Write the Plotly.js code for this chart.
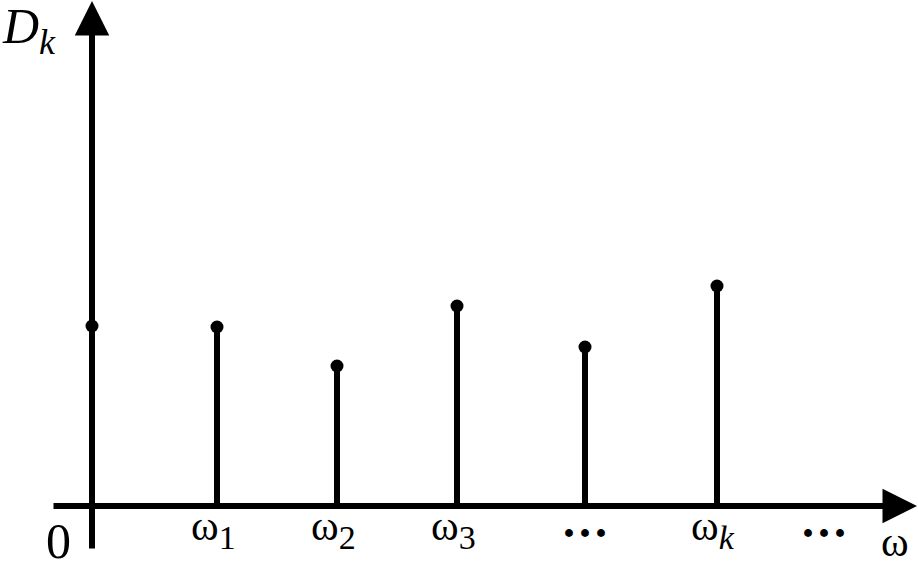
<!DOCTYPE html>
<html><head><meta charset="utf-8">
<script src="https://cdn.plot.ly/plotly-3.0.1.min.js"></script>
<style>html,body{margin:0;padding:0;background:#fff}#chart{width:918px;height:564px}</style>
</head><body><div id="chart"></div>
<script>
// Stem positions along the ω axis and their magnitudes D_k
const positions = [0, 1.25, 2.45, 3.65, 4.93, 6.25];
const heights   = [1.80, 1.79, 1.40, 2.00, 1.59, 2.20];
const tickLabels = ['', 'ω<sub><span style="font-size:34px">1</span></sub>', 'ω<sub><span style="font-size:34px">2</span></sub>',
                    'ω<sub><span style="font-size:34px">3</span></sub>', '···', 'ω<sub><span style="font-size:34px"><i>k</i></span></sub>'];
const extraTickPos = [7.32];
const extraTickLabels = ['···'];

const stemX = [], stemY = [];
positions.forEach((p, i) => { stemX.push(p, p, null); stemY.push(0, heights[i], null); });

const font = 'Liberation Serif, Times New Roman, serif';
const traces = [
  {x: stemX, y: stemY, mode: 'lines', line: {color: '#000', width: 6}, hoverinfo: 'skip', showlegend: false},
  {x: positions, y: heights, mode: 'markers', marker: {color: '#000', size: 13}, showlegend: false}
];

const ann = [];
positions.forEach((p, i) => {
  if (!tickLabels[i]) return;
  const dots = tickLabels[i] === '···';
  ann.push({x: p, y: dots ? -0.26 : -0.23, xref: 'x', yref: 'y', text: dots ? '<b>···</b>' : tickLabels[i], showarrow: false,
            xanchor: 'center', yanchor: 'middle', xshift: dots ? 0 : -4,
            font: {family: font, size: dots ? 48 : 42, color: '#000'}});
});
extraTickPos.forEach((p, i) => ann.push({x: p, y: -0.26, xref: 'x', yref: 'y', text: '<b>' + extraTickLabels[i] + '</b>', showarrow: false,
  xanchor: 'center', yanchor: 'middle', font: {family: font, size: 48, color: '#000'}}));
// axis arrows
ann.push({x: 8.25, y: 0, ax: -0.40, ay: 0, xref: 'x', yref: 'y', axref: 'x', ayref: 'y', text: '', showarrow: true,
  arrowhead: 2, arrowsize: 1.15, arrowwidth: 6, arrowcolor: '#000', standoff: 0});
ann.push({x: 0, y: 5.05, ax: 0, ay: -0.44, xref: 'x', yref: 'y', axref: 'x', ayref: 'y', text: '', showarrow: true,
  arrowhead: 2, arrowsize: 1.15, arrowwidth: 6, arrowcolor: '#000', standoff: 0});
// labels
ann.push({x: -0.34, y: -0.35, xref: 'x', yref: 'y', text: '0', showarrow: false, xanchor: 'center', yanchor: 'middle',
  font: {family: font, size: 50, color: '#000'}});
ann.push({x: 8.03, y: -0.36, xref: 'x', yref: 'y', text: 'ω', showarrow: false, xanchor: 'center', yanchor: 'middle',
  font: {family: font, size: 42, color: '#000'}});
ann.push({x: -0.92, y: 5.06, xref: 'x', yref: 'y', text: '<i>D</i><sub><span style="font-size:36px"><i>k</i></span></sub>', showarrow: false,
  xanchor: 'left', yanchor: 'top', yshift: 4,
  font: {family: font, size: 50, color: '#000'}});

const layout = {
  width: 918, height: 564, margin: {l: 0, r: 0, t: 0, b: 0},
  paper_bgcolor: '#fff', plot_bgcolor: '#fff',
  xaxis: {range: [-0.92, 8.26], visible: false, fixedrange: true},
  yaxis: {range: [-0.58, 5.06], visible: false, fixedrange: true},
  annotations: ann, showlegend: false
};
Plotly.newPlot('chart', traces, layout, {displayModeBar: false, staticPlot: true});
</script></body></html>
